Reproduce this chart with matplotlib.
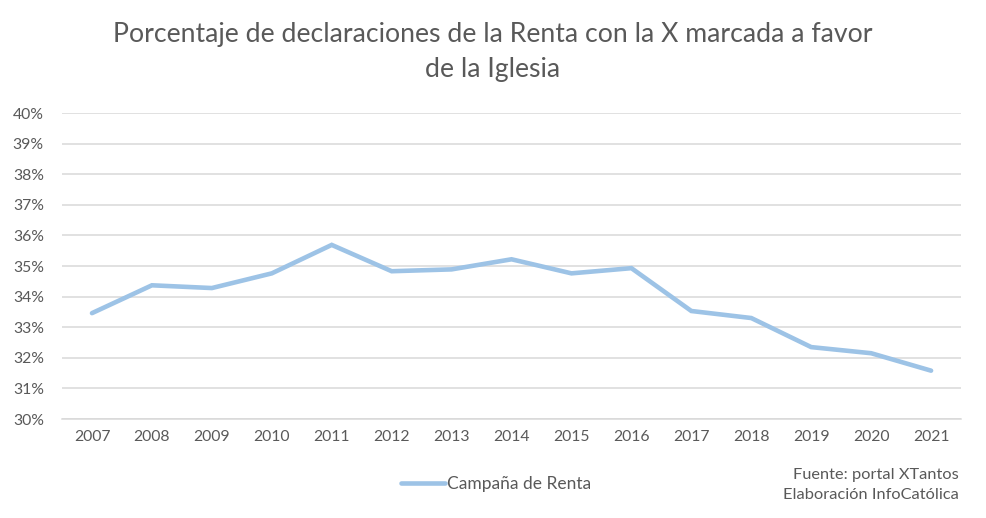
import matplotlib.pyplot as plt
from matplotlib.ticker import FuncFormatter

years = ["2007", "2008", "2009", "2010", "2011", "2012", "2013", "2014",
         "2015", "2016", "2017", "2018", "2019", "2020", "2021"]
pct = [33.46, 34.37, 34.28, 34.76, 35.69, 34.83, 34.89, 35.22,
       34.76, 34.93, 33.53, 33.30, 32.35, 32.15, 31.58]
series_name = "Campaña de Renta"
title = "Porcentaje de declaraciones de la Renta con la X marcada a favor\nde la Iglesia"
source = "Fuente: portal XTantos\nElaboración InfoCatólica"

plt.rcParams['font.family'] = ['Lato', 'DejaVu Sans']
GREY = "#595959"
LINE = "#9DC3E6"

fig = plt.figure(figsize=(9.86, 5.18), dpi=100)
ax = fig.add_axes([0.0629, 0.1911, 0.9118, 0.5907])

x = list(range(len(years)))
ln, = ax.plot(x, pct, color=LINE, lw=3.3, solid_capstyle="round",
              solid_joinstyle="miter", label=series_name)

ax.set_xlim(-0.5, len(years) - 0.5)
ax.set_ylim(30, 40)
ax.set_yticks(range(30, 41))
ax.yaxis.set_major_formatter(FuncFormatter(lambda v, p: f"{int(v)}%"))
ax.set_xticks(x)
ax.set_xticklabels(years)
ax.grid(axis="y", color="#D9D9D9", lw=1.1)
ax.set_axisbelow(True)
for s in ["top", "right", "left"]:
    ax.spines[s].set_visible(False)
ax.spines["bottom"].set_color("#D9D9D9")
ax.spines["bottom"].set_linewidth(1.1)
ax.tick_params(length=0, colors=GREY, labelsize=11.3)
ax.tick_params(axis="y", pad=13)
ax.tick_params(axis="x", pad=8)

fig.text(0.5, 0.957, title, ha="center", va="top", fontsize=19.2,
         color=GREY, linespacing=1.5)

fig.legend(handles=[ln], loc="center left", bbox_to_anchor=(0.407, 0.066),
           frameon=False, fontsize=12.5, labelcolor=GREY, handlelength=2.5,
           handletextpad=0.15, borderpad=0, borderaxespad=0)
fig.text(0.972, 0.03, source, ha="right", va="bottom", fontsize=11.8,
         color=GREY, linespacing=1.55)

fig.savefig("out.png", dpi=100)
